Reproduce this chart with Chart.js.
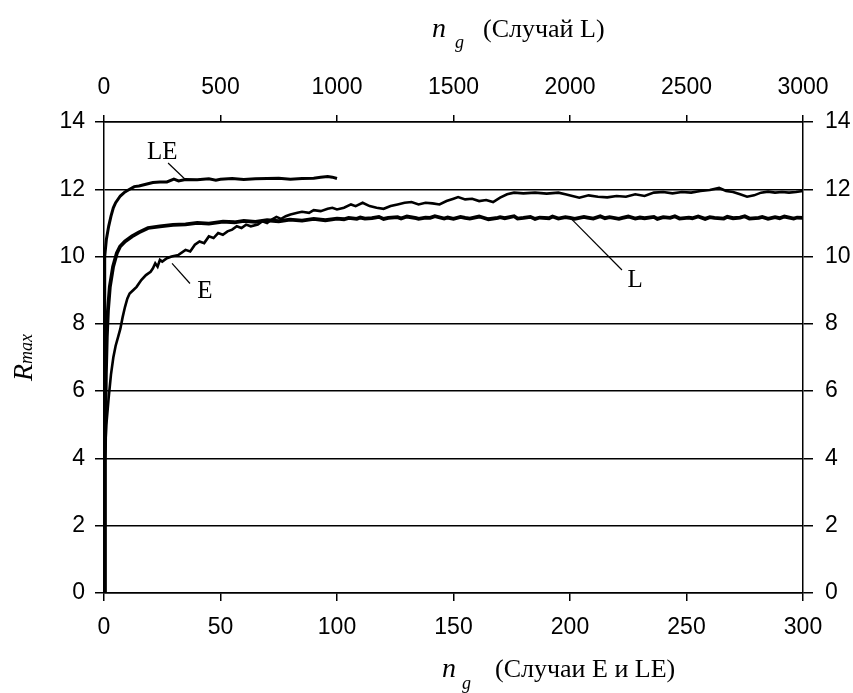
<!DOCTYPE html>
<html>
<head>
<meta charset="utf-8">
<script src="https://cdn.jsdelivr.net/npm/chart.js@4.4.1/dist/chart.umd.min.js"></script>
<style>
  html, body { margin: 0; padding: 0; background: #fff; }
  #wrap { width: 853px; height: 693px; }
</style>
</head>
<body>
<div id="wrap"><canvas id="chart" width="853" height="693"></canvas></div>
<script>
// Case LE (bottom axis, generations 0..100)
const leX = [0, 0.2, 0.4, 1, 2, 3, 4, 5, 7, 9, 11, 13, 15, 18, 21, 24, 27, 30, 32, 35, 40, 45, 48, 50, 55, 60, 65, 70, 75, 80, 85, 90, 93, 96, 98, 100];
const leY = [0, 6.0, 10.0, 10.5, 10.9, 11.2, 11.45, 11.6, 11.8, 11.92, 12.0, 12.08, 12.1, 12.15, 12.2, 12.22, 12.22, 12.3, 12.25, 12.29, 12.28, 12.31, 12.27, 12.3, 12.32, 12.29, 12.31, 12.32, 12.33, 12.3, 12.32, 12.33, 12.36, 12.38, 12.36, 12.32];

// Case E (bottom axis, generations 0..300)
const eX = [0, 0.3, 1, 2, 3, 4, 5, 6, 7, 8, 9, 10, 11, 12.5, 14, 16, 18, 20, 21, 22, 23, 24, 25, 27, 29, 32, 35, 37, 39, 41, 43, 45, 47, 49, 51, 53, 55, 57, 59, 61, 63, 66, 68, 70, 72, 74, 76, 78, 80, 83, 85, 88, 90, 93, 96, 98, 100, 103, 106, 108, 111, 114, 117, 120, 123, 126, 129, 132, 135, 138, 141, 144, 147, 150, 152, 155, 158, 161, 164, 167, 170, 173, 176, 180, 185, 190, 195, 198, 201, 204, 208, 212, 216, 220, 224, 228, 232, 236, 240, 244, 248, 252, 256, 260, 264, 267, 270, 273, 276, 279, 282, 285, 288, 291, 294, 297, 300];
const eY = [0, 4.0, 5.0, 5.8, 6.5, 7.0, 7.35, 7.6, 7.85, 8.2, 8.5, 8.75, 8.9, 9.0, 9.1, 9.3, 9.45, 9.55, 9.65, 9.8, 9.7, 9.9, 9.85, 9.95, 10.0, 10.05, 10.2, 10.15, 10.35, 10.45, 10.4, 10.6, 10.55, 10.7, 10.65, 10.75, 10.8, 10.9, 10.85, 10.95, 10.9, 10.95, 11.05, 11.0, 11.1, 11.18, 11.12, 11.2, 11.25, 11.3, 11.33, 11.3, 11.38, 11.35, 11.42, 11.45, 11.4, 11.45, 11.55, 11.5, 11.6, 11.5, 11.45, 11.42, 11.5, 11.55, 11.6, 11.62, 11.55, 11.6, 11.58, 11.55, 11.65, 11.72, 11.77, 11.7, 11.72, 11.65, 11.68, 11.62, 11.75, 11.85, 11.9, 11.88, 11.9, 11.87, 11.9, 11.85, 11.8, 11.75, 11.82, 11.78, 11.76, 11.8, 11.78, 11.85, 11.8, 11.9, 11.92, 11.88, 11.92, 11.9, 11.95, 11.98, 12.04, 11.95, 11.92, 11.85, 11.78, 11.82, 11.9, 11.93, 11.9, 11.92, 11.9, 11.92, 11.95];

// Case L (top axis, generations 0..3000)
const lX = [0, 4, 8, 12, 17, 25, 39, 55, 69, 90, 120, 150, 189, 240, 296, 350, 400, 450, 511, 560, 600, 650, 700, 750, 798, 850, 900, 950, 1000, 1030, 1050, 1085, 1100, 1120, 1150, 1180, 1200, 1220, 1260, 1275, 1300, 1340, 1350, 1380, 1400, 1420, 1460, 1475, 1500, 1530, 1550, 1570, 1610, 1625, 1650, 1690, 1700, 1720, 1760, 1775, 1800, 1830, 1850, 1870, 1910, 1925, 1950, 1980, 2000, 2020, 2060, 2075, 2100, 2130, 2150, 2170, 2210, 2225, 2250, 2280, 2300, 2320, 2360, 2375, 2400, 2430, 2450, 2470, 2510, 2525, 2550, 2580, 2600, 2620, 2660, 2675, 2700, 2730, 2750, 2770, 2810, 2825, 2850, 2880, 2900, 2920, 2960, 2975, 3000];
const lY = [0, 4.0, 6.5, 7.6, 8.4, 9.1, 9.7, 10.1, 10.3, 10.45, 10.6, 10.72, 10.85, 10.9, 10.94, 10.96, 11.0, 10.98, 11.04, 11.02, 11.06, 11.03, 11.08, 11.05, 11.1, 11.07, 11.12, 11.08, 11.13, 11.11, 11.15, 11.12, 11.16, 11.13, 11.14, 11.18, 11.12, 11.15, 11.17, 11.13, 11.19, 11.14, 11.12, 11.16, 11.15, 11.2, 11.13, 11.16, 11.12, 11.18, 11.15, 11.13, 11.19, 11.16, 11.11, 11.15, 11.17, 11.14, 11.2, 11.13, 11.15, 11.18, 11.12, 11.16, 11.14, 11.19, 11.13, 11.17, 11.15, 11.12, 11.18, 11.16, 11.13, 11.2, 11.14, 11.17, 11.12, 11.15, 11.19, 11.13, 11.16, 11.14, 11.18, 11.12, 11.17, 11.15, 11.2, 11.13, 11.16, 11.14, 11.19, 11.12, 11.17, 11.15, 11.13, 11.18, 11.14, 11.16, 11.2, 11.13, 11.15, 11.18, 11.12, 11.17, 11.14, 11.19, 11.13, 11.16, 11.15];

const yTicks = [0, 2, 4, 6, 8, 10, 12, 14];

const toPts = (xs, ys) => xs.map((x, i) => ({ x, y: ys[i] }));

const TICK_FONT = { family: '"Liberation Sans", Arial, sans-serif', size: 23 };
const SERIF = '"Liberation Serif", "Times New Roman", serif';
const BLACK = '#000';

// Annotation labels with leader lines (in bottom-axis data units)
const notes = [
  { text: 'LE', tx: 25, ty: 13.1, x1: 27.5, y1: 12.78, x2: 34.8, y2: 12.3 },
  { text: 'E', tx: 43.3, ty: 8.95, x1: 29.2, y1: 9.8, x2: 36.9, y2: 9.2 },
  { text: 'L', tx: 228, ty: 9.3, x1: 200.9, y1: 11.1, x2: 222.3, y2: 9.6 },
];

function drawRich(ctx, x, parts) {
  let cx = x;
  parts.forEach((p) => {
    ctx.font = p.font;
    ctx.fillText(p.text, cx + (p.dx || 0), p.y);
    cx += (p.dx || 0) + ctx.measureText(p.text).width;
  });
}

const decorPlugin = {
  id: 'decor',
  afterDraw(chart) {
    const { ctx, scales } = chart;
    const xs = scales.x, ys = scales.y;
    ctx.save();
    ctx.fillStyle = BLACK;
    ctx.strokeStyle = BLACK;

    // annotations
    notes.forEach((n) => {
      ctx.lineWidth = 1.2;
      ctx.beginPath();
      ctx.moveTo(xs.getPixelForValue(n.x1), ys.getPixelForValue(n.y1));
      ctx.lineTo(xs.getPixelForValue(n.x2), ys.getPixelForValue(n.y2));
      ctx.stroke();
      ctx.font = '25px ' + SERIF;
      ctx.textAlign = 'center';
      ctx.textBaseline = 'middle';
      ctx.fillText(n.text, xs.getPixelForValue(n.tx), ys.getPixelForValue(n.ty));
    });

    ctx.textAlign = 'left';
    ctx.textBaseline = 'alphabetic';

    // top axis title
    drawRich(ctx, 432, [
      { text: 'n', font: 'italic 28px ' + SERIF, y: 37 },
      { text: 'g', font: 'italic 18px ' + SERIF, y: 48, dx: 9 },
      { text: '(Случай L)', font: '26px ' + SERIF, y: 37, dx: 19 },
    ]);
    // bottom axis title
    drawRich(ctx, 442, [
      { text: 'n', font: 'italic 28px ' + SERIF, y: 677 },
      { text: 'g', font: 'italic 18px ' + SERIF, y: 689, dx: 6 },
      { text: '(Случаи E и LE)', font: '26px ' + SERIF, y: 677, dx: 24 },
    ]);
    // y title
    ctx.translate(32, 381);
    ctx.rotate(-Math.PI / 2);
    drawRich(ctx, 0, [
      { text: 'R', font: 'italic 28px ' + SERIF, y: 0 },
      { text: 'max', font: 'italic 18px ' + SERIF, y: 0 },
    ]);
    ctx.restore();
  },
};

const lineStyle = (width) => ({
  borderColor: BLACK,
  borderWidth: width,
  pointRadius: 0,
  tension: 0,
  fill: false,
});

const plainNum = (v) => String(v);

new Chart(document.getElementById('chart'), {
  type: 'line',
  data: {
    datasets: [
      { label: 'LE', data: toPts(leX, leY), xAxisID: 'x', yAxisID: 'y', ...lineStyle(3) },
      { label: 'E', data: toPts(eX, eY), xAxisID: 'x', yAxisID: 'y', ...lineStyle(2.6) },
      { label: 'L', data: toPts(lX, lY), xAxisID: 'x2', yAxisID: 'y', ...lineStyle(3.8) },
    ],
  },
  options: {
    responsive: false,
    animation: false,
    layout: { padding: 0 },
    plugins: { legend: { display: false }, tooltip: { enabled: false } },
    scales: {
      x: {
        type: 'linear', position: 'bottom', min: 0, max: 300,
        afterFit: (s) => { s.height = 100; },
        ticks: { stepSize: 50, color: BLACK, font: TICK_FONT, padding: 13, maxRotation: 0, callback: plainNum },
        grid: { drawOnChartArea: false, drawTicks: true, tickLength: 8, color: BLACK, lineWidth: 1.5 },
        border: { display: true, color: BLACK, width: 1.5 },
      },
      x2: {
        type: 'linear', position: 'top', min: 0, max: 3000,
        afterFit: (s) => { s.height = 122; },
        ticks: { stepSize: 500, color: BLACK, font: TICK_FONT, padding: 14, maxRotation: 0, callback: plainNum },
        grid: { drawOnChartArea: false, drawTicks: true, tickLength: 7, color: BLACK, lineWidth: 1.5 },
        border: { display: true, color: BLACK, width: 1.5 },
      },
      y: {
        type: 'linear', position: 'left', min: 0, max: 14,
        afterFit: (s) => { s.width = 104; },
        afterBuildTicks: (s) => { s.ticks = yTicks.map((v) => ({ value: v })); },
        ticks: { color: BLACK, font: TICK_FONT, padding: 10 },
        grid: { drawTicks: true, tickLength: 9, color: BLACK, lineWidth: 1.5 },
        border: { display: true, color: BLACK, width: 1.5 },
      },
      y2: {
        type: 'linear', position: 'right', min: 0, max: 14,
        afterFit: (s) => { s.width = 50; },
        afterBuildTicks: (s) => { s.ticks = yTicks.map((v) => ({ value: v })); },
        ticks: { color: BLACK, font: TICK_FONT, padding: 12 },
        grid: { drawOnChartArea: false, drawTicks: true, tickLength: 10, color: BLACK, lineWidth: 1.5 },
        border: { display: true, color: BLACK, width: 1.5 },
      },
    },
  },
  plugins: [decorPlugin],
});
</script>
</body>
</html>
